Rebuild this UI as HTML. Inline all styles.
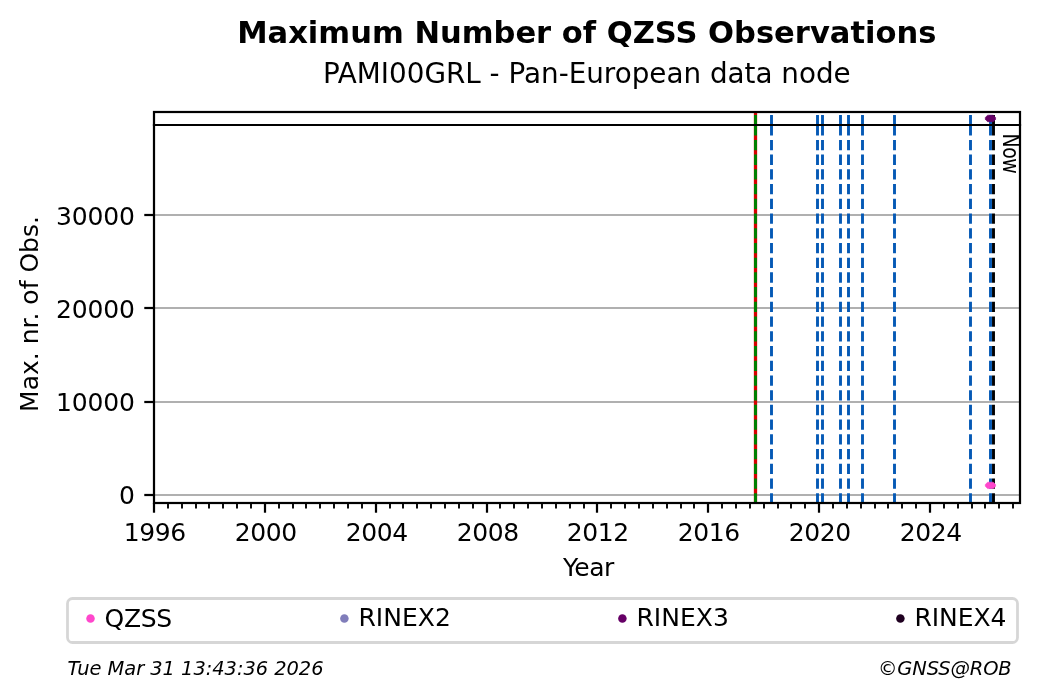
<!DOCTYPE html>
<html lang="en"><head><meta charset="utf-8"><title>Maximum Number of QZSS Observations</title>
<style>html,body{margin:0;padding:0;background:#fff}body{width:1040px;height:699px;overflow:hidden}svg{display:block}text{font-family:'DejaVu Sans','Liberation Sans',sans-serif;fill:#000}</style></head><body>
<svg width="1040" height="699" viewBox="0 0 1040 699">
<rect x="0" y="0" width="1040" height="699" fill="#ffffff"/>
<line x1="154.00" y1="495.00" x2="1020.00" y2="495.00" stroke="#b0b0b0" stroke-width="2.22"/>
<line x1="154.00" y1="402.00" x2="1020.00" y2="402.00" stroke="#b0b0b0" stroke-width="2.22"/>
<line x1="154.00" y1="308.00" x2="1020.00" y2="308.00" stroke="#b0b0b0" stroke-width="2.22"/>
<line x1="154.00" y1="215.00" x2="1020.00" y2="215.00" stroke="#b0b0b0" stroke-width="2.22"/>
<line x1="755.50" y1="503.45" x2="755.50" y2="125.00" stroke="#d80000" stroke-width="3.30"/>
<line x1="755.50" y1="125.30" x2="755.50" y2="112.00" stroke="#d80000" stroke-width="3.30"/>
<line x1="755.50" y1="503.45" x2="755.50" y2="125.00" stroke="#008000" stroke-width="3.00" stroke-dasharray="10.28 4.44"/>
<line x1="755.50" y1="125.30" x2="755.50" y2="112.00" stroke="#008000" stroke-width="3.00" stroke-dasharray="10.28 4.44"/>
<line x1="771.50" y1="503.45" x2="771.50" y2="125.00" stroke="#0559b5" stroke-width="2.90" stroke-dasharray="10.28 4.44"/>
<line x1="771.50" y1="125.30" x2="771.50" y2="112.00" stroke="#0559b5" stroke-width="2.90" stroke-dasharray="10.28 4.44"/>
<line x1="817.50" y1="503.45" x2="817.50" y2="125.00" stroke="#0559b5" stroke-width="2.90" stroke-dasharray="10.28 4.44"/>
<line x1="817.50" y1="125.30" x2="817.50" y2="112.00" stroke="#0559b5" stroke-width="2.90" stroke-dasharray="10.28 4.44"/>
<line x1="822.50" y1="503.45" x2="822.50" y2="125.00" stroke="#0559b5" stroke-width="2.90" stroke-dasharray="10.28 4.44"/>
<line x1="822.50" y1="125.30" x2="822.50" y2="112.00" stroke="#0559b5" stroke-width="2.90" stroke-dasharray="10.28 4.44"/>
<line x1="840.50" y1="503.45" x2="840.50" y2="125.00" stroke="#0559b5" stroke-width="2.90" stroke-dasharray="10.28 4.44"/>
<line x1="840.50" y1="125.30" x2="840.50" y2="112.00" stroke="#0559b5" stroke-width="2.90" stroke-dasharray="10.28 4.44"/>
<line x1="848.50" y1="503.45" x2="848.50" y2="125.00" stroke="#0559b5" stroke-width="2.90" stroke-dasharray="10.28 4.44"/>
<line x1="848.50" y1="125.30" x2="848.50" y2="112.00" stroke="#0559b5" stroke-width="2.90" stroke-dasharray="10.28 4.44"/>
<line x1="862.50" y1="503.45" x2="862.50" y2="125.00" stroke="#0559b5" stroke-width="2.90" stroke-dasharray="10.28 4.44"/>
<line x1="862.50" y1="125.30" x2="862.50" y2="112.00" stroke="#0559b5" stroke-width="2.90" stroke-dasharray="10.28 4.44"/>
<line x1="894.50" y1="503.45" x2="894.50" y2="125.00" stroke="#0559b5" stroke-width="2.90" stroke-dasharray="10.28 4.44"/>
<line x1="894.50" y1="125.30" x2="894.50" y2="112.00" stroke="#0559b5" stroke-width="2.90" stroke-dasharray="10.28 4.44"/>
<line x1="970.50" y1="503.45" x2="970.50" y2="125.00" stroke="#0559b5" stroke-width="2.90" stroke-dasharray="10.28 4.44"/>
<line x1="970.50" y1="125.30" x2="970.50" y2="112.00" stroke="#0559b5" stroke-width="2.90" stroke-dasharray="10.28 4.44"/>
<line x1="990.50" y1="503.45" x2="990.50" y2="125.00" stroke="#0559b5" stroke-width="2.90" stroke-dasharray="10.28 4.44"/>
<line x1="990.50" y1="125.30" x2="990.50" y2="112.00" stroke="#0559b5" stroke-width="2.90" stroke-dasharray="10.28 4.44"/>
<line x1="993.50" y1="503.45" x2="993.50" y2="125.00" stroke="#000000" stroke-width="2.90" stroke-dasharray="10.28 4.44"/>
<line x1="993.50" y1="125.30" x2="993.50" y2="112.00" stroke="#000000" stroke-width="2.90" stroke-dasharray="10.28 4.44"/>
<polygon points="987.60,482.20 993.30,482.20 995.60,484.60 995.60,486.20 993.30,488.60 987.60,488.60 985.30,486.20 985.30,484.60" fill="#ff47cc" stroke="#ff47cc" stroke-width="0.6" stroke-linejoin="round"/>
<polygon points="987.60,115.20 993.30,115.20 995.60,117.60 995.60,119.30 993.30,121.70 987.60,121.70 985.30,119.30 985.30,117.60" fill="#660066" stroke="#660066" stroke-width="0.6" stroke-linejoin="round"/>
<rect x="154.00" y="112.00" width="866.00" height="391.00" fill="none" stroke="#000" stroke-width="2.22"/>
<line x1="152.89" y1="125.00" x2="1021.11" y2="125.00" stroke="#000" stroke-width="2.22"/>
<line x1="144.28" y1="495.00" x2="154.00" y2="495.00" stroke="#000" stroke-width="2.22"/>
<text x="134.70" y="503.80" font-size="25" letter-spacing="-0.15" text-anchor="end">0</text>
<line x1="144.28" y1="402.00" x2="154.00" y2="402.00" stroke="#000" stroke-width="2.22"/>
<text x="134.70" y="410.80" font-size="25" letter-spacing="-0.15" text-anchor="end">10000</text>
<line x1="144.28" y1="308.00" x2="154.00" y2="308.00" stroke="#000" stroke-width="2.22"/>
<text x="134.70" y="317.80" font-size="25" letter-spacing="-0.15" text-anchor="end">20000</text>
<line x1="144.28" y1="215.00" x2="154.00" y2="215.00" stroke="#000" stroke-width="2.22"/>
<text x="134.70" y="224.80" font-size="25" letter-spacing="-0.15" text-anchor="end">30000</text>
<line x1="154.00" y1="503.00" x2="154.00" y2="512.72" stroke="#000" stroke-width="2.22"/>
<text x="154.70" y="540.80" font-size="25" letter-spacing="-0.4" text-anchor="middle">1996</text>
<line x1="168.00" y1="503.00" x2="168.00" y2="508.56" stroke="#000" stroke-width="1.9"/>
<line x1="182.00" y1="503.00" x2="182.00" y2="508.56" stroke="#000" stroke-width="1.9"/>
<line x1="196.00" y1="503.00" x2="196.00" y2="508.56" stroke="#000" stroke-width="1.9"/>
<line x1="209.00" y1="503.00" x2="209.00" y2="508.56" stroke="#000" stroke-width="1.9"/>
<line x1="223.00" y1="503.00" x2="223.00" y2="508.56" stroke="#000" stroke-width="1.9"/>
<line x1="237.00" y1="503.00" x2="237.00" y2="508.56" stroke="#000" stroke-width="1.9"/>
<line x1="251.00" y1="503.00" x2="251.00" y2="508.56" stroke="#000" stroke-width="1.9"/>
<line x1="265.00" y1="503.00" x2="265.00" y2="512.72" stroke="#000" stroke-width="2.22"/>
<text x="265.70" y="540.80" font-size="25" letter-spacing="-0.4" text-anchor="middle">2000</text>
<line x1="279.00" y1="503.00" x2="279.00" y2="508.56" stroke="#000" stroke-width="1.9"/>
<line x1="293.00" y1="503.00" x2="293.00" y2="508.56" stroke="#000" stroke-width="1.9"/>
<line x1="306.00" y1="503.00" x2="306.00" y2="508.56" stroke="#000" stroke-width="1.9"/>
<line x1="320.00" y1="503.00" x2="320.00" y2="508.56" stroke="#000" stroke-width="1.9"/>
<line x1="334.00" y1="503.00" x2="334.00" y2="508.56" stroke="#000" stroke-width="1.9"/>
<line x1="348.00" y1="503.00" x2="348.00" y2="508.56" stroke="#000" stroke-width="1.9"/>
<line x1="362.00" y1="503.00" x2="362.00" y2="508.56" stroke="#000" stroke-width="1.9"/>
<line x1="376.00" y1="503.00" x2="376.00" y2="512.72" stroke="#000" stroke-width="2.22"/>
<text x="376.70" y="540.80" font-size="25" letter-spacing="-0.4" text-anchor="middle">2004</text>
<line x1="390.00" y1="503.00" x2="390.00" y2="508.56" stroke="#000" stroke-width="1.9"/>
<line x1="403.00" y1="503.00" x2="403.00" y2="508.56" stroke="#000" stroke-width="1.9"/>
<line x1="417.00" y1="503.00" x2="417.00" y2="508.56" stroke="#000" stroke-width="1.9"/>
<line x1="431.00" y1="503.00" x2="431.00" y2="508.56" stroke="#000" stroke-width="1.9"/>
<line x1="445.00" y1="503.00" x2="445.00" y2="508.56" stroke="#000" stroke-width="1.9"/>
<line x1="459.00" y1="503.00" x2="459.00" y2="508.56" stroke="#000" stroke-width="1.9"/>
<line x1="473.00" y1="503.00" x2="473.00" y2="508.56" stroke="#000" stroke-width="1.9"/>
<line x1="487.00" y1="503.00" x2="487.00" y2="512.72" stroke="#000" stroke-width="2.22"/>
<text x="487.70" y="540.80" font-size="25" letter-spacing="-0.4" text-anchor="middle">2008</text>
<line x1="500.00" y1="503.00" x2="500.00" y2="508.56" stroke="#000" stroke-width="1.9"/>
<line x1="514.00" y1="503.00" x2="514.00" y2="508.56" stroke="#000" stroke-width="1.9"/>
<line x1="528.00" y1="503.00" x2="528.00" y2="508.56" stroke="#000" stroke-width="1.9"/>
<line x1="542.00" y1="503.00" x2="542.00" y2="508.56" stroke="#000" stroke-width="1.9"/>
<line x1="556.00" y1="503.00" x2="556.00" y2="508.56" stroke="#000" stroke-width="1.9"/>
<line x1="570.00" y1="503.00" x2="570.00" y2="508.56" stroke="#000" stroke-width="1.9"/>
<line x1="584.00" y1="503.00" x2="584.00" y2="508.56" stroke="#000" stroke-width="1.9"/>
<line x1="597.00" y1="503.00" x2="597.00" y2="512.72" stroke="#000" stroke-width="2.22"/>
<text x="597.70" y="540.80" font-size="25" letter-spacing="-0.4" text-anchor="middle">2012</text>
<line x1="611.00" y1="503.00" x2="611.00" y2="508.56" stroke="#000" stroke-width="1.9"/>
<line x1="625.00" y1="503.00" x2="625.00" y2="508.56" stroke="#000" stroke-width="1.9"/>
<line x1="639.00" y1="503.00" x2="639.00" y2="508.56" stroke="#000" stroke-width="1.9"/>
<line x1="653.00" y1="503.00" x2="653.00" y2="508.56" stroke="#000" stroke-width="1.9"/>
<line x1="667.00" y1="503.00" x2="667.00" y2="508.56" stroke="#000" stroke-width="1.9"/>
<line x1="681.00" y1="503.00" x2="681.00" y2="508.56" stroke="#000" stroke-width="1.9"/>
<line x1="694.00" y1="503.00" x2="694.00" y2="508.56" stroke="#000" stroke-width="1.9"/>
<line x1="708.00" y1="503.00" x2="708.00" y2="512.72" stroke="#000" stroke-width="2.22"/>
<text x="708.70" y="540.80" font-size="25" letter-spacing="-0.4" text-anchor="middle">2016</text>
<line x1="722.00" y1="503.00" x2="722.00" y2="508.56" stroke="#000" stroke-width="1.9"/>
<line x1="736.00" y1="503.00" x2="736.00" y2="508.56" stroke="#000" stroke-width="1.9"/>
<line x1="750.00" y1="503.00" x2="750.00" y2="508.56" stroke="#000" stroke-width="1.9"/>
<line x1="764.00" y1="503.00" x2="764.00" y2="508.56" stroke="#000" stroke-width="1.9"/>
<line x1="778.00" y1="503.00" x2="778.00" y2="508.56" stroke="#000" stroke-width="1.9"/>
<line x1="791.00" y1="503.00" x2="791.00" y2="508.56" stroke="#000" stroke-width="1.9"/>
<line x1="805.00" y1="503.00" x2="805.00" y2="508.56" stroke="#000" stroke-width="1.9"/>
<line x1="819.00" y1="503.00" x2="819.00" y2="512.72" stroke="#000" stroke-width="2.22"/>
<text x="819.70" y="540.80" font-size="25" letter-spacing="-0.4" text-anchor="middle">2020</text>
<line x1="833.00" y1="503.00" x2="833.00" y2="508.56" stroke="#000" stroke-width="1.9"/>
<line x1="847.00" y1="503.00" x2="847.00" y2="508.56" stroke="#000" stroke-width="1.9"/>
<line x1="861.00" y1="503.00" x2="861.00" y2="508.56" stroke="#000" stroke-width="1.9"/>
<line x1="875.00" y1="503.00" x2="875.00" y2="508.56" stroke="#000" stroke-width="1.9"/>
<line x1="888.00" y1="503.00" x2="888.00" y2="508.56" stroke="#000" stroke-width="1.9"/>
<line x1="902.00" y1="503.00" x2="902.00" y2="508.56" stroke="#000" stroke-width="1.9"/>
<line x1="916.00" y1="503.00" x2="916.00" y2="508.56" stroke="#000" stroke-width="1.9"/>
<line x1="930.00" y1="503.00" x2="930.00" y2="512.72" stroke="#000" stroke-width="2.22"/>
<text x="930.70" y="540.80" font-size="25" letter-spacing="-0.4" text-anchor="middle">2024</text>
<line x1="944.00" y1="503.00" x2="944.00" y2="508.56" stroke="#000" stroke-width="1.9"/>
<line x1="958.00" y1="503.00" x2="958.00" y2="508.56" stroke="#000" stroke-width="1.9"/>
<line x1="972.00" y1="503.00" x2="972.00" y2="508.56" stroke="#000" stroke-width="1.9"/>
<line x1="985.00" y1="503.00" x2="985.00" y2="508.56" stroke="#000" stroke-width="1.9"/>
<line x1="999.00" y1="503.00" x2="999.00" y2="508.56" stroke="#000" stroke-width="1.9"/>
<line x1="1013.00" y1="503.00" x2="1013.00" y2="508.56" stroke="#000" stroke-width="1.9"/>
<text x="588.4" y="575.8" font-size="25" letter-spacing="-0.5" text-anchor="middle">Year</text>
<text transform="translate(38.2 314) rotate(-90)" font-size="25" text-anchor="middle">Max. nr. of Obs.</text>
<text transform="translate(1003.1 133.5) rotate(90) scale(0.95 1)" font-size="22.2" letter-spacing="-0.5" style="font-family:'DejaVu Sans Condensed','DejaVu Sans','Liberation Sans',sans-serif">Now</text>
<text x="586.8" y="42.8" font-size="30.56" font-weight="bold" text-anchor="middle">Maximum Number of QZSS Observations</text>
<text x="586.8" y="83.2" font-size="27.8" text-anchor="middle">PAMI00GRL - Pan-European data node</text>
<rect x="67.5" y="598.5" width="950" height="44" rx="5" ry="5" fill="#ffffff" stroke="#cccccc" stroke-opacity="0.8" stroke-width="2.78"/>
<circle cx="90.50" cy="618.45" r="4.25" fill="#ff47cc"/>
<text x="104.60" y="627.2" font-size="25" letter-spacing="-0.30">QZSS</text>
<circle cx="344.40" cy="618.45" r="4.25" fill="#807dba"/>
<text x="358.40" y="626.0" font-size="25" letter-spacing="0.05">RINEX2</text>
<circle cx="622.40" cy="618.45" r="4.25" fill="#660066"/>
<text x="636.40" y="626.0" font-size="25" letter-spacing="0.05">RINEX3</text>
<circle cx="900.40" cy="618.45" r="4.25" fill="#1f0020"/>
<text x="914.40" y="626.0" font-size="25" letter-spacing="-0.05">RINEX4</text>
<text x="67.4" y="675.3" font-size="19.44" font-style="italic" letter-spacing="-0.04">Tue Mar 31 13:43:36 2026</text>
<text x="1011.6" y="675.3" font-size="19.44" font-style="italic" letter-spacing="-0.1" text-anchor="end">©GNSS@ROB</text>
</svg></body></html>
